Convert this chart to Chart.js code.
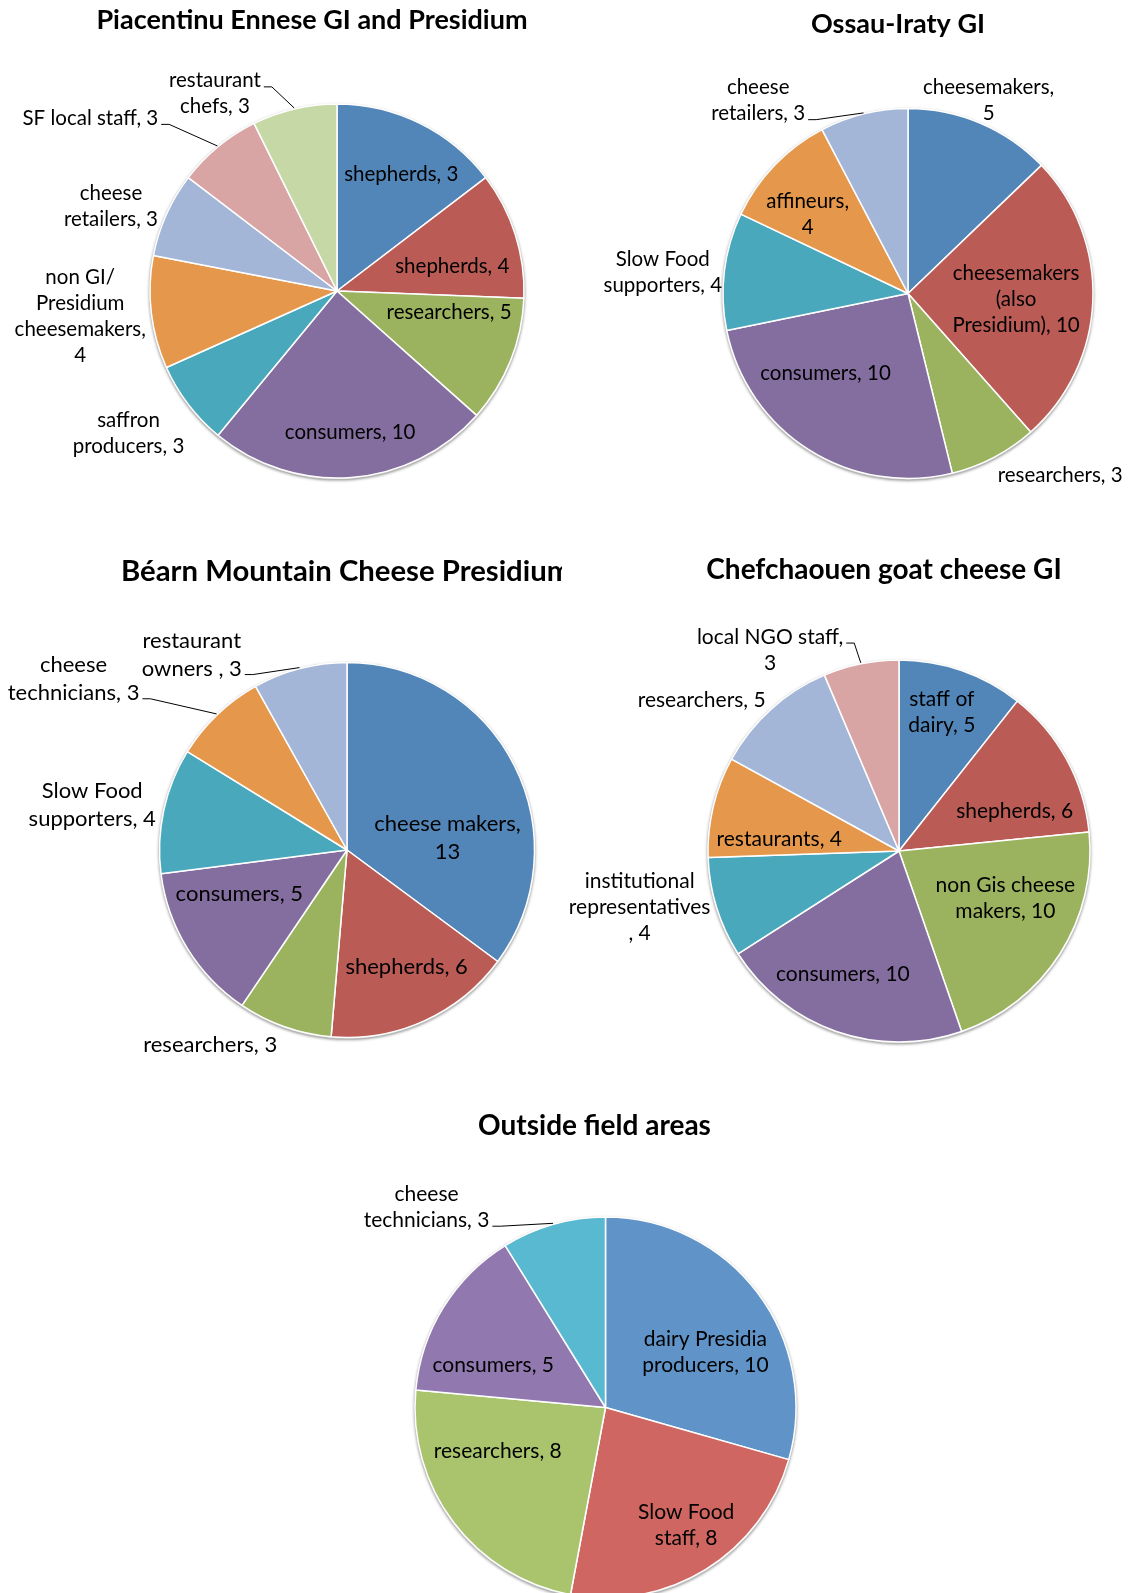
<!DOCTYPE html>
<html><head><meta charset="utf-8">
<script src="https://cdn.jsdelivr.net/npm/chart.js@4.4.0/dist/chart.umd.min.js"></script>
<style>
html,body{margin:0;padding:0;background:#fff;width:1131px;height:1593px;overflow:hidden;}
.box{position:absolute;overflow:hidden;}
canvas{display:block;}
</style></head><body>
<div class="box"><canvas id="c1"></canvas></div>
<div class="box"><canvas id="c2"></canvas></div>
<div class="box"><canvas id="c3"></canvas></div>
<div class="box"><canvas id="c4"></canvas></div>
<div class="box"><canvas id="c5"></canvas></div>
<script>
// ---------- DATA ----------
// 1. Piacentinu Ennese GI and Presidium
const piacentinuCategories = ['shepherds','shepherds','researchers','consumers','saffron\nproducers','non GI/\nPresidium\ncheesemakers','cheese\nretailers','SF local staff','restaurant\nchefs'];
const piacentinuLabelValues = [3,4,5,10,3,4,3,3,3];          // numbers printed in the labels
const piacentinuSliceSizes  = [6,4.5,4.5,10,3,4,3,3,3];      // slice sizes as drawn in the picture

// 2. Ossau-Iraty GI
const ossauCategories = ['cheesemakers','cheesemakers\n(also\nPresidium)','researchers','consumers','Slow Food\nsupporters','affineurs','cheese\nretailers'];
const ossauValues = [5,10,3,10,4,4,3];

// 3. Béarn Mountain Cheese Presidium
const bearnCategories = ['cheese makers','shepherds','researchers','consumers','Slow Food\nsupporters','cheese\ntechnicians','restaurant\nowners '];
const bearnValues = [13,6,3,5,4,3,3];

// 4. Chefchaouen goat cheese GI
const chefCategories = ['staff of\ndairy','shepherds','non Gis cheese\nmakers','consumers','institutional\nrepresentatives\n','restaurants','researchers','local NGO staff'];
const chefValues = [5,6,10,10,4,4,5,3];

// 5. Outside field areas
const outsideCategories = ['dairy Presidia\nproducers','Slow Food\nstaff','researchers','consumers','cheese\ntechnicians'];
const outsideValues = [10,8,8,5,3];

// ---------- STYLE / LAYOUT ----------
const FONT = 'Lato, "Open Sans", sans-serif';
const pal2007 = ['#5386B8','#BA5B56','#9BB35E','#846E9F','#4AA8BD','#E5984C','#A3B6D8','#D8A5A4','#C7D8A7'];
const pal2010 = ['#6094C8','#D06661','#AAC46D','#9179B0','#58B9D1'];

const pieLabelPlugin = {
  id: 'pieLabels',
  beforeDatasetsDraw(chart, args, o) {
    const ctx = chart.ctx;
    const a = chart.getDatasetMeta(0).data[0];
    const p = a.getProps(['x','y','outerRadius'], true);
    ctx.save();
    ctx.beginPath();
    ctx.arc(p.x, p.y + 0.5, p.outerRadius + 0.8, 0, Math.PI*2);
    ctx.shadowColor = 'rgba(0,0,0,0.45)';
    ctx.shadowBlur = 3;
    ctx.shadowOffsetY = 1;
    ctx.fillStyle = '#c8c8c8';
    ctx.fill();
    ctx.restore();
  },
  afterDatasetsDraw(chart, args, o) {
    const ctx = chart.ctx;
    const meta = chart.getDatasetMeta(0);
    const st = o.style;
    ctx.save();
    ctx.font = st.label + 'px ' + FONT;
    ctx.fillStyle = '#000';
    ctx.textAlign = 'center';
    ctx.textBaseline = 'middle';
    meta.data.forEach((arc, i) => {
      const p = arc.getProps(['x','y','startAngle','endAngle','outerRadius'], true);
      const L = o.place[i];
      const mid = (p.startAngle + p.endAngle) / 2;
      const ang = mid + L.da * Math.PI / 180;
      const cx = p.x + Math.cos(ang) * p.outerRadius * L.f;
      const cy = p.y + Math.sin(ang) * p.outerRadius * L.f;
      const text = chart.data.labels[i] + (L.sep || ', ') + o.printed[i];
      const lines = text.split('\n');
      const top = cy - (lines.length - 1) * st.line / 2;
      lines.forEach((s, k) => ctx.fillText(s, cx, top + k * st.line));
      if (L.lead !== undefined) {
        const k = L.lead;
        const w = ctx.measureText(lines[k]).width;
        const sx = cx + w / 2 + 3, sy = top + k * st.line + 6;
        const ex = p.x + Math.cos(mid) * (p.outerRadius + 1);
        const ey = p.y + Math.sin(mid) * (p.outerRadius + 1);
        ctx.beginPath();
        ctx.moveTo(sx, sy);
        ctx.lineTo(sx + 8, sy);
        ctx.lineTo(ex, ey);
        ctx.strokeStyle = '#000';
        ctx.lineWidth = 1;
        ctx.stroke();
      }
    });
    // title
    const t = o.title;
    ctx.font = 'bold ' + st.title + 'px ' + FONT;
    ctx.textAlign = t.align || 'center';
    ctx.fillText(t.text, t.x, t.y);
    ctx.restore();
  }
};

function makePie(idx, box, pie, categories, sizes, printed, colors, place, title, style) {
  const canvas = document.getElementById('c' + idx);
  const wrap = canvas.parentElement;
  wrap.style.left = box.x0 + 'px'; wrap.style.top = box.y0 + 'px';
  wrap.style.width = box.W + 'px'; wrap.style.height = box.H + 'px';
  canvas.width = box.W; canvas.height = box.H;
  const bw = 1.5;
  const R = pie.r + bw / 2;
  const lx = pie.cx - box.x0, ly = pie.cy - box.y0;
  new Chart(canvas, {
    type: 'pie',
    data: { labels: categories, datasets: [{ data: sizes, backgroundColor: colors, borderColor: '#ffffff', borderWidth: bw }] },
    options: {
      responsive: false, animation: false, events: [],
      layout: { padding: { left: lx - R, top: ly - R, right: box.W - lx - R, bottom: box.H - ly - R } },
      plugins: {
        legend: { display: false }, tooltip: { enabled: false }, title: { display: false },
        pieLabels: { printed: printed, place: place, title: title, style: style }
      }
    },
    plugins: [pieLabelPlugin]
  });
}

makePie(1, {x0:0, y0:0, W:562, H:540}, {cx:337, cy:291, r:187},
  piacentinuCategories, piacentinuSliceSizes, piacentinuLabelValues, pal2007,
  [{f:0.71,da:2.6},{f:0.63,da:5.7},{f:0.61,da:-11.2},{f:0.76,da:-0.9},{f:1.35,da:3},
   {f:1.38,da:0.9,sep:',\n'},{f:1.29,da:-3.7},{f:1.61,da:-15.5,lead:0},{f:1.24,da:-18.6,lead:0}],
  {text:'Piacentinu Ennese GI and Presidium', x:312, y:20},
  {label:20.5, line:26, title:27});

makePie(2, {x0:562, y0:0, W:569, H:540}, {cx:908, cy:293.5, r:185},
  ossauCategories, ossauValues, ossauValues, pal2007,
  [{f:1.13,da:-0.4,sep:',\n'},{f:0.585,da:0.6},{f:1.28,da:-12.3},{f:0.62,da:13.7},
   {f:1.33,da:-2.1},{f:0.69,da:-5.7,sep:',\n'},{f:1.32,da:-24,lead:1}],
  {text:'Ossau-Iraty GI', x:336, y:24},
  {label:20.5, line:26, title:27});

makePie(3, {x0:0, y0:540, W:562, H:540}, {cx:347, cy:850, r:187.5},
  bearnCategories, bearnValues, bearnValues, pal2007,
  [{f:0.54,da:19.9,sep:',\n'},{f:0.70,da:-2.7},{f:1.27,da:15.6},{f:0.62,da:9.5},
   {f:1.38,da:-2.1},{f:1.72,da:-14.2,lead:1},{f:1.33,da:-23.9,lead:1}],
  {text:'Béarn Mountain Cheese Presidium', x:121, y:32, align:'left'},
  {label:22, line:27.5, title:29.3});

makePie(4, {x0:562, y0:540, W:569, H:540}, {cx:899, cy:851, r:191},
  chefCategories, chefValues, chefValues, pal2007,
  [{f:0.76,da:-2},{f:0.64,da:9.8},{f:0.61,da:-8.5},{f:0.71,da:5.3},{f:1.39,da:4.9},
   {f:0.63,da:-7.6},{f:1.30,da:-10.5},{f:1.25,da:-21.2,sep:',\n',lead:0}],
  {text:'Chefchaouen goat cheese GI', x:322, y:30},
  {label:21, line:26, title:28});

makePie(5, {x0:0, y0:1080, W:1131, H:520}, {cx:605.5, cy:1407.5, r:190.5},
  outsideCategories, outsideValues, outsideValues, pal2010,
  [{f:0.60,da:8},{f:0.75,da:-2.6},{f:0.61,da:15},{f:0.63,da:-11.1},{f:1.41,da:-25.9,lead:1}],
  {text:'Outside field areas', x:594.5, y:46},
  {label:21, line:26, title:28});
</script>
</body></html>
